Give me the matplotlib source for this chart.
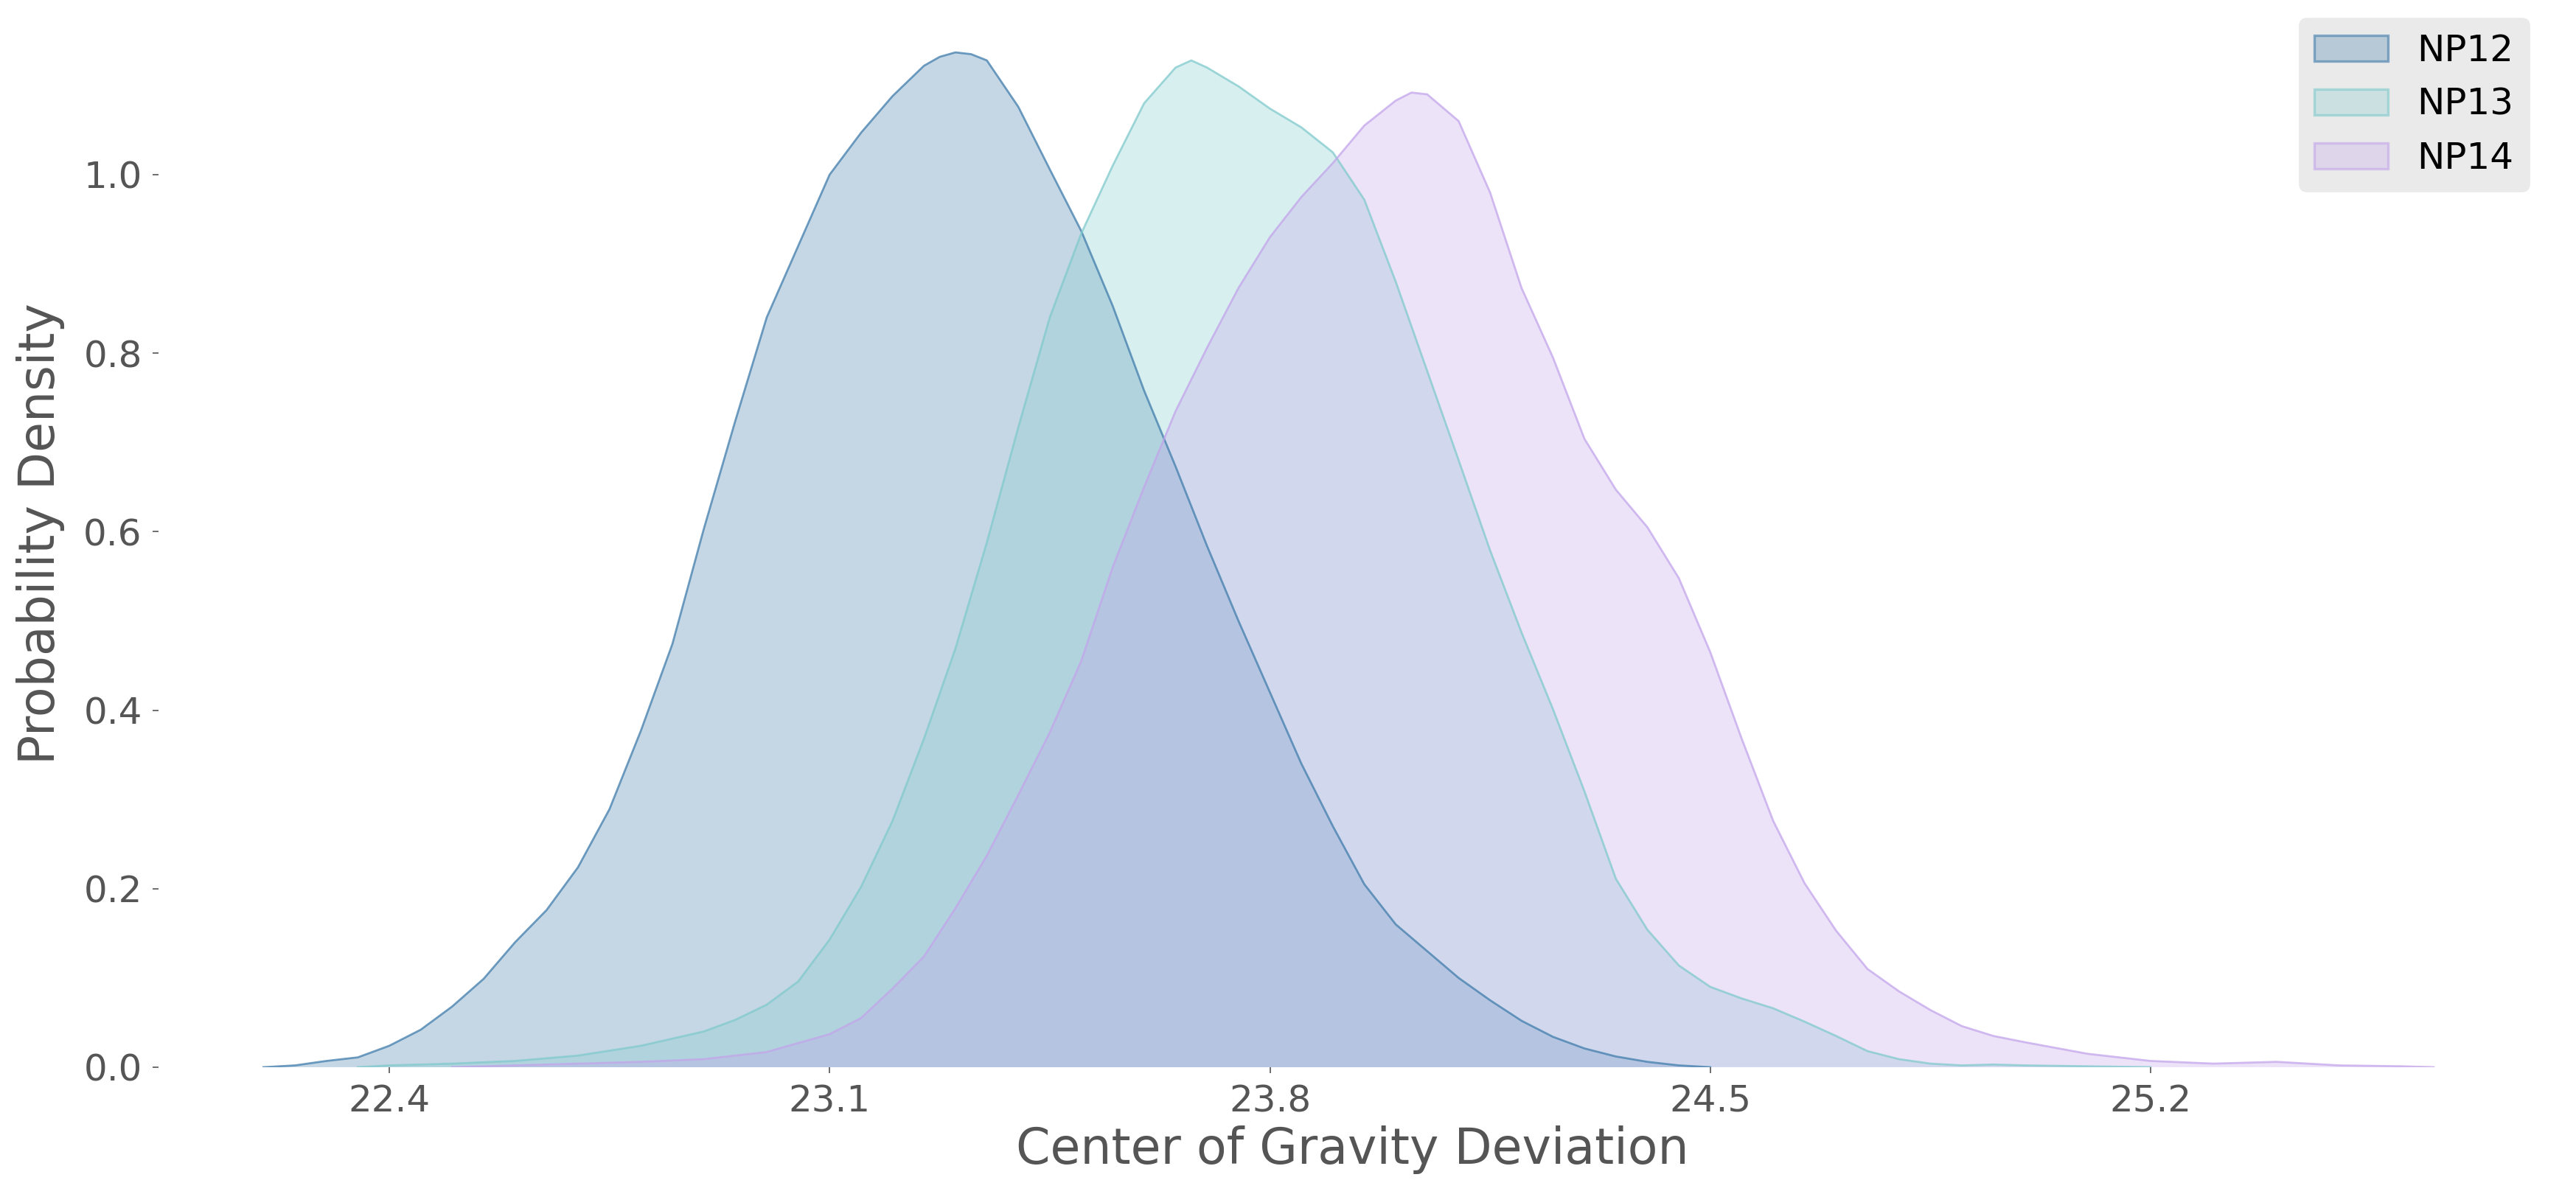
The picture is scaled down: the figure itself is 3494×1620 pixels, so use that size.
import matplotlib
matplotlib.use("Agg")
import matplotlib.pyplot as plt
from matplotlib.patches import Patch
from matplotlib.colors import to_rgba

# density curves
np12_x = [22.2, 22.25, 22.3, 22.35, 22.4, 22.45, 22.5, 22.55, 22.6, 22.65, 22.7, 22.75,
          22.8, 22.85, 22.9, 22.95, 23.0, 23.05, 23.1, 23.15, 23.2, 23.25, 23.275, 23.3,
          23.325, 23.35, 23.4, 23.45, 23.5, 23.55, 23.6, 23.65, 23.7, 23.75, 23.8, 23.85,
          23.9, 23.95, 24.0, 24.05, 24.1, 24.15, 24.2, 24.25, 24.3, 24.35, 24.4, 24.45, 24.5]
np12_y = [0.0, 0.002, 0.007, 0.011, 0.024, 0.042, 0.068, 0.099, 0.14, 0.176, 0.224, 0.289,
          0.377, 0.474, 0.603, 0.724, 0.84, 0.92, 1.0, 1.047, 1.088, 1.122, 1.132, 1.137,
          1.135, 1.128, 1.076, 1.006, 0.937, 0.853, 0.758, 0.673, 0.584, 0.5, 0.42, 0.34,
          0.27, 0.205, 0.16, 0.13, 0.1, 0.075, 0.052, 0.034, 0.021, 0.012, 0.006, 0.002, 0.0]

np13_x = [22.35, 22.4, 22.5, 22.6, 22.7, 22.8, 22.9, 22.95, 23.0, 23.05, 23.1, 23.15,
          23.2, 23.25, 23.3, 23.35, 23.4, 23.45, 23.5, 23.55, 23.6, 23.65, 23.675, 23.7,
          23.75, 23.8, 23.85, 23.9, 23.95, 24.0, 24.05, 24.1, 24.15, 24.2, 24.25, 24.3,
          24.35, 24.4, 24.45, 24.5, 24.55, 24.6, 24.65, 24.7, 24.75, 24.8, 24.85, 24.9,
          24.95, 25.0, 25.1, 25.2]
np13_y = [0.0, 0.002, 0.004, 0.007, 0.013, 0.024, 0.04, 0.053, 0.07, 0.096, 0.143, 0.202,
          0.276, 0.368, 0.469, 0.588, 0.717, 0.84, 0.934, 1.01, 1.08, 1.12, 1.128, 1.12,
          1.099, 1.074, 1.053, 1.025, 0.972, 0.88, 0.78, 0.68, 0.579, 0.487, 0.401, 0.309,
          0.211, 0.154, 0.114, 0.09, 0.077, 0.066, 0.051, 0.035, 0.018, 0.009, 0.004, 0.002,
          0.003, 0.002, 0.001, 0.0]

np14_x = [22.5, 22.6, 22.7, 22.8, 22.9, 23.0, 23.1, 23.15, 23.2, 23.25, 23.3, 23.35,
          23.4, 23.45, 23.5, 23.55, 23.6, 23.65, 23.7, 23.75, 23.8, 23.85, 23.9, 23.95,
          24.0, 24.025, 24.05, 24.1, 24.15, 24.2, 24.25, 24.3, 24.35, 24.4, 24.45, 24.5,
          24.55, 24.6, 24.65, 24.7, 24.75, 24.8, 24.85, 24.9, 24.95, 25.0, 25.1, 25.2,
          25.3, 25.4, 25.5, 25.6, 25.65]
np14_y = [0.0, 0.002, 0.004, 0.006, 0.009, 0.017, 0.037, 0.055, 0.088, 0.124, 0.178, 0.237,
          0.305, 0.375, 0.455, 0.56, 0.65, 0.735, 0.806, 0.873, 0.93, 0.975, 1.013, 1.055,
          1.083, 1.092, 1.09, 1.06, 0.98, 0.873, 0.795, 0.704, 0.647, 0.605, 0.548, 0.465,
          0.368, 0.276, 0.206, 0.153, 0.11, 0.085, 0.064, 0.046, 0.035, 0.028, 0.015, 0.007,
          0.004, 0.006, 0.002, 0.001, 0.0]

labels = ["NP12", "NP13", "NP14"]
colors = ["#417dac", "#80cacd", "#c3a5eb"]
xticks = [22.4, 23.1, 23.8, 24.5, 25.2]
yticks = [0.0, 0.2, 0.4, 0.6, 0.8, 1.0]

fig = plt.figure(figsize=(17.47, 8.1), dpi=200)
ax = fig.add_axes([0.0615, 0.1062, 0.9272, 0.8938])

series = [(np12_x, np12_y), (np13_x, np13_y), (np14_x, np14_y)]
for (xs, ys), lab, c in zip(series, labels, colors):
    ax.fill_between(xs, ys, 0, facecolor=c, alpha=0.3, linewidth=0)
    ax.plot(xs, ys, color=c, alpha=0.75, linewidth=1)

# legend patches with coloured edges like the original
handles = [Patch(facecolor=to_rgba(c, 0.3), edgecolor=to_rgba(c, 0.6), linewidth=1.2, label=l)
           for c, l in zip(colors, labels)]

for s in ax.spines.values():
    s.set_visible(False)
ax.set_facecolor("white")
ax.set_xlim(22.033, 25.83)
ax.set_ylim(0, 1.1957)
ax.set_xticks(xticks)
ax.set_yticks(yticks)
ax.set_xticklabels([str(t) for t in xticks])
ax.tick_params(axis="both", labelsize=18, colors="#555555", labelcolor="#555555",
               length=3, width=0.6, pad=5)
ax.set_xlabel("Center of Gravity Deviation", fontsize=24, color="#555555", labelpad=3)
ax.set_ylabel("Probability Density", fontsize=24, color="#555555", labelpad=9)

leg = ax.legend(handles=handles, loc="upper right", fontsize=18, facecolor="#eaeaea",
                edgecolor="#eaeaea", framealpha=1, fancybox=True)

plt.savefig("out.png", dpi=200)
